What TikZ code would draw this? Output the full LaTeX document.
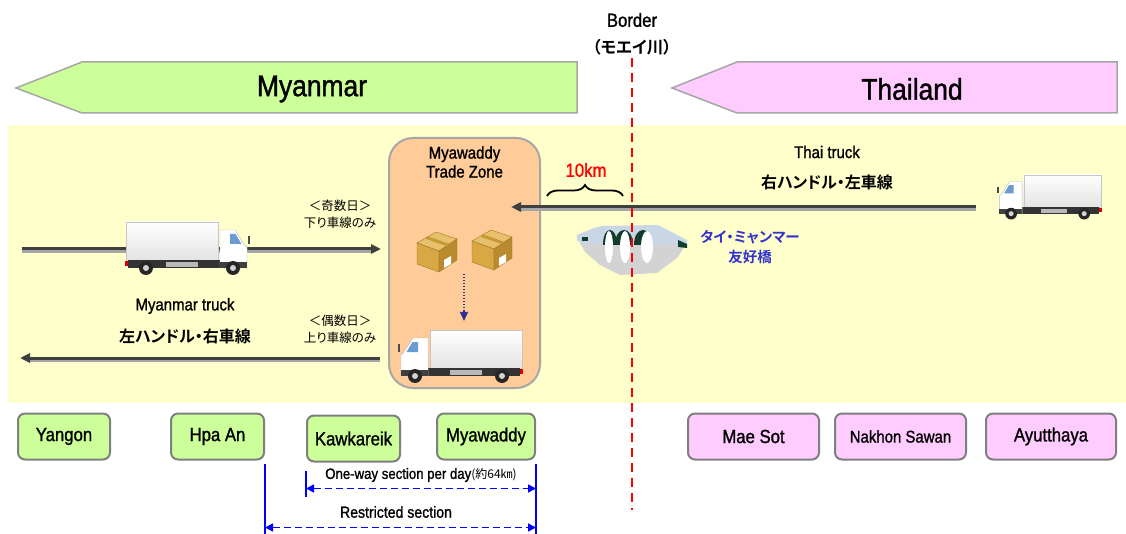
\documentclass[tikz,border=0pt]{standalone}
\usepackage{fontspec}
\setmainfont{Liberation Sans}[FakeStretch=0.88, FakeBold=1.2]
\newfontfamily\jp{Noto Sans CJK JP}[BoldFont={Noto Sans CJK JP Bold}, RawFeature=+palt]
\usetikzlibrary{arrows.meta,decorations.pathreplacing}
\definecolor{MmGreen}{HTML}{CCFF99}
\definecolor{ThPink}{HTML}{FFCCFF}
\definecolor{Band}{HTML}{FFFFCC}
\definecolor{ZoneFill}{HTML}{FFCC99}
\definecolor{ZoneEdge}{HTML}{A6A6A6}
\definecolor{BoxEdge}{HTML}{7F7F7F}
\definecolor{FlagEdge}{HTML}{A6A6A6}
\definecolor{Road}{HTML}{3F3F3F}
\definecolor{RoadShade}{HTML}{A6A6A6}
\definecolor{LineRed}{HTML}{FF0000}
\definecolor{Marker}{HTML}{0000FF}
\definecolor{Navy}{HTML}{2E3192}
\definecolor{BridgeBlue}{HTML}{3333CC}
\definecolor{BridgeGray}{HTML}{D3D3D3}
\definecolor{BridgeTop}{HTML}{C8D6E6}
\definecolor{BridgeArch}{HTML}{123D2C}
\definecolor{WinBlue}{HTML}{6C9BD2}
\definecolor{CrateTop}{HTML}{E6C06A}
\definecolor{CrateSide}{HTML}{D9A743}
\definecolor{CrateShade}{HTML}{B98A2E}
\definecolor{CrateTape}{HTML}{C79838}
\definecolor{CrateEdge}{HTML}{A07828}
\newcommand{\lorry}[4]{
  \begin{scope}[shift={(#1,#2)}, xscale=#3, scale=#4]
    \shade[top color=white, bottom color=gray!22, draw=gray!45] (0,0) rectangle (92,38);
    \fill[black!80] (2,38) rectangle (96,46);
    \fill[gray!55] (40,40) rectangle (72,45);
    \fill[red!85!black] (-1,39) rectangle (2,44);
    \filldraw[fill=white, draw=gray!55] (94,8) -- (109,8) -- (118,22) -- (121,25) -- (121,46) -- (94,46) -- cycle;
    \fill[WinBlue] (104,12) -- (109.5,12) -- (115.5,22) -- (104,22) -- cycle;
    \fill[black!75] (94,40) rectangle (121,46);
    \fill[black!70] (122,14) rectangle (124,22);
    \foreach \wx in {20,107} {
      \fill[black!85] (\wx,46) circle (7);
      \fill[gray!35] (\wx,46) circle (3);
    }
  \end{scope}
}
\newcommand{\parcel}[2]{
  \begin{scope}[shift={(#1,#2)}]
    \filldraw[fill=CrateTop, draw=CrateEdge] (0,14) -- (19,3) -- (40,10) -- (22,22) -- cycle;
    \filldraw[fill=CrateSide, draw=CrateEdge] (0,14) -- (22,22) -- (22,43) -- (0,35) -- cycle;
    \filldraw[fill=CrateShade, draw=CrateEdge] (22,22) -- (40,10) -- (40,31) -- (22,43) -- cycle;
    \draw[CrateTape, line width=3pt] (9.5,8.5) -- (31,16);
    \fill[white] (27,31) -- (34,27) -- (34,35) -- (27,39) -- cycle;
  \end{scope}
}
\tikzset{
  flag/.style={draw=FlagEdge, line width=1.5pt},
  heading/.style={font=\fontsize{30}{34}\selectfont},
  tag/.style={font=\fontsize{17}{19}\selectfont, align=center},
  jpnote/.style={font=\jp\fontsize{12.5}{17}\selectfont, align=center},
  jpbold/.style={font=\jp\bfseries\fontsize{16}{18}\selectfont},
  place/.style={draw=BoxEdge, line width=2pt, rounded corners=7pt, minimum height=46pt, inner sep=0pt, font=\fontsize{19}{21}\selectfont},
  mmplace/.style={place, fill=MmGreen},
  thplace/.style={place, fill=ThPink},
  zone/.style={draw=ZoneEdge, fill=ZoneFill, line width=2pt, rounded corners=24pt, minimum width=151pt, minimum height=250pt},
  road/.style={draw=Road, line width=3pt, -{Triangle[length=10pt,width=9pt]}},
  roadshade/.style={draw=RoadShade, line width=2.5pt, shorten >=9pt},
  transfer/.style={draw=Navy, line width=1.3pt, dash pattern=on 1.5pt off 1.5pt, -{Triangle[length=9pt,width=8pt]}},
  frontier/.style={draw=LineRed, line width=2.2pt, dash pattern=on 9pt off 6pt},
  endbar/.style={draw=Marker, line width=1.6pt},
  section/.style={draw=Marker, line width=1.6pt, dash pattern=on 7pt off 4pt, {Triangle[length=8pt,width=8pt]}-{Triangle[length=8pt,width=8pt]}},
}

\begin{document}
\begin{tikzpicture}[x=1pt,y=-1pt]
  \useasboundingbox (0,0) rectangle (1126,534);
  % banners
  \draw[flag, fill=MmGreen] (16,88) -- (82,62) -- (577,62) -- (577,113) -- (82,113) -- cycle;
  \draw[flag, fill=ThPink] (672,88) -- (737,62) -- (1117,62) -- (1117,113) -- (737,113) -- cycle;
  \node[heading] (myanmar) at (312,89) {Myanmar};
  \node[heading] (thailand) at (912,89) {Thailand};
  \node[font=\fontsize{19}{21}\selectfont] (border) at (632,20) {Border};
  \node[font=\jp\bfseries\fontsize{16.5}{18}\selectfont] (river) at (632,47) {（モエイ川）};

  \fill[Band] (8,125) rectangle (1126,403);
  \node[zone] (zone) at (464.5,263) {};
  \node[tag] (zonename) at (464.5,162) {Myawaddy\\Trade Zone};

  % lanes
  \coordinate (downA) at (22,249);
  \coordinate (downB) at (381,249);
  \coordinate (upA) at (380,358);
  \coordinate (upB) at (20,358);
  \coordinate (thA) at (976,207);
  \coordinate (thB) at (511,207);
  \draw[roadshade] ([yshift=-2.5pt]downA) -- ([yshift=-2.5pt]downB);
  \draw[roadshade] ([yshift=-2.5pt]upA) -- ([yshift=-2.5pt]upB);
  \draw[roadshade] ([yshift=-2.5pt]thA) -- ([yshift=-2.5pt]thB);
  \draw[road] (downA) -- (downB);
  \draw[road] (upA) -- (upB);
  \draw[road] (thA) -- (thB);

  \lorry{126}{222}{1}{1}
  \lorry{522}{330}{-1}{1}
  \lorry{1101}{175}{-1}{0.84}

  \parcel{417}{229}
  \parcel{472}{227}
  \coordinate (unload) at (464,274);
  \coordinate (load) at (464,321);
  \draw[transfer] (unload) -- (load);

  % friendship bridge
  \fill[BridgeGray] (580,243) -- (687,243) -- (677,258) -- (657,273) -- (620,275) -- (600,265) -- (585,252) -- cycle;
  \fill[BridgeTop] (577,235) -- (594,228) -- (602,226) -- (658,225) -- (687,240) -- (687,244) -- (582,244) -- (577,240) -- cycle;
  \foreach \ax/\aw in {603/14,615/18,634/18}
    \fill[BridgeArch] (\ax,245) .. controls (\ax,225) and (\ax+\aw,225) .. (\ax+\aw,245) -- cycle;
  \fill[BridgeArch] (678,240) -- (687,244) -- (687,248) -- (678,247) -- cycle;
  \fill[BridgeArch] (582,237) rectangle (588,241);
  \foreach \ox/\rx in {609/4,625/5,647/6}
    \fill[white] (\ox,247) ellipse [x radius=\rx, y radius=16];

  \draw[frontier] (632,58) -- (632,510);

  \node[font=\fontsize{19}{21}\selectfont, text=LineRed] (dist) at (586,170) {10km};
  \draw[decorate, decoration={brace, amplitude=11pt}, line width=1.8pt] (547,196) -- (623,196);
  \node[jpbold, font=\jp\bfseries\fontsize{14.5}{20}\selectfont, text=BridgeBlue, align=center] (bridgename) at (750,247) {タイ・ミャンマー\\友好橋};

  \node[tag] (thaitruck) at (827,152) {Thai truck};
  \node[jpbold] (thaiside) at (827,182) {右ハンドル・左車線};
  \node[tag] (mmtruck) at (185,306) {Myanmar truck};
  \node[jpbold] (mmside) at (185,336) {左ハンドル・右車線};
  \node[jpnote] (odd) at (340,214) {＜奇数日＞\\下り車線のみ};
  \node[jpnote] (even) at (340,329) {＜偶数日＞\\上り車線のみ};

  % towns
  \node[mmplace, minimum width=92pt] (yangon) at (64,436.5) {Yangon};
  \node[mmplace, minimum width=93pt] (hpaan) at (217.5,436.5) {Hpa An};
  \node[mmplace, minimum width=93pt] (kawkareik) at (353.5,438.5) {Kawkareik};
  \node[mmplace, minimum width=98pt] (myawaddy) at (486,436.5) {Myawaddy};
  \node[thplace, minimum width=131pt] (maesot) at (753.5,436.5) {Mae Sot};
  \node[thplace, minimum width=131pt, font=\fontsize{17}{19}\selectfont] (nakhon) at (900.5,436.5) {Nakhon Sawan};
  \node[thplace, minimum width=130pt] (ayutthaya) at (1051,436.5) {Ayutthaya};

  % sections
  \draw[endbar] (hpaan.south east) ++(0,3) -- ++(0,72);
  \draw[endbar] (kawkareik.south west) ++(0,8) -- ++(0,26);
  \draw[endbar] (myawaddy.south east) ++(0,3) -- ++(0,72);
  \path (kawkareik.south west) ++(0,26) coordinate (oneL);
  \path (myawaddy.south east) ++(0,28) coordinate (oneR);
  \path (hpaan.south east) ++(0,67) coordinate (resL);
  \path (myawaddy.south east) ++(0,67) coordinate (resR);
  \draw[section] (oneL) -- (oneR);
  \draw[section] (resL) -- (resR);
  \node[font=\fontsize{15}{17}\selectfont] (oneway) at (421,475) {One-way section per day{\jp\fontsize{12}{14}\selectfont (約64㎞)}};
  \node[font=\fontsize{16}{18}\selectfont] (restricted) at (396,512) {Restricted section};
\end{tikzpicture}
\end{document}
